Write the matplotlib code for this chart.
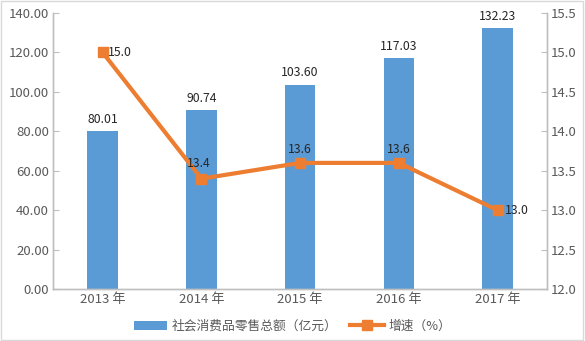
import matplotlib
matplotlib.use("Agg")
import matplotlib.pyplot as plt
from matplotlib.patches import Rectangle

plt.rcParams['font.family'] = ['Noto Sans CJK SC', 'DejaVu Sans']

years = ["2013年", "2014年", "2015年", "2016年", "2017年"]
sales = [80.01, 90.74, 103.60, 117.03, 132.23]
growth = [15.0, 13.4, 13.6, 13.6, 13.0]

bar_color = "#5B9BD5"
line_color = "#ED7D31"
axis_color = "#BFBFBF"
text_color = "#595959"

fig = plt.figure(figsize=(5.85, 3.41), dpi=100)
fig.patches.append(Rectangle((0.002, 0.003), 0.995, 0.994, transform=fig.transFigure,
                             fill=False, edgecolor="#D9D9D9", linewidth=1.0))
ax = fig.add_axes([0.091, 0.152, 0.844, 0.810])
ax2 = ax.twinx()

x = list(range(len(years)))
bars = ax.bar(x, sales, width=0.31, color=bar_color, zorder=2)
ax.set_xlim(-0.5, len(years) - 0.5)
ax.set_ylim(0, 140)
ax.set_yticks(range(0, 141, 20))
ax.set_yticklabels([f"{v:.2f}" for v in range(0, 141, 20)])
ax.set_xticks(x)
ax.set_xticklabels([y.replace("年", " 年") for y in years])

for xi, v in zip(x, sales):
    ax.annotate(f"{v:.2f}", (xi, v), xytext=(0, 4), textcoords="offset points",
                ha="center", va="bottom", fontsize=8.8, color="#262626")

line, = ax2.plot(x, growth, color=line_color, linewidth=3.0, marker="s",
                 markersize=7, zorder=3)
ax2.set_ylim(12.0, 15.5)
ax2.set_yticks([12.0 + 0.5 * i for i in range(8)])
ax2.set_yticklabels([f"{12.0 + 0.5 * i:.1f}" for i in range(8)])

offsets = [(4, 0, "left", "center"), (-2, 6, "center", "bottom"),
           (0, 5, "center", "bottom"), (0, 5, "center", "bottom"),
           (5, 0, "left", "center")]
for xi, v, (dx, dy, ha, va) in zip(x, growth, offsets):
    ax2.annotate(f"{v:.1f}", (xi, v), xytext=(dx, dy), textcoords="offset points",
                 ha=ha, va=va, fontsize=8.8, color="#262626")

for a in (ax, ax2):
    a.spines["top"].set_visible(False)
    for s in ("left", "right", "bottom"):
        a.spines[s].set_color(axis_color)
        a.spines[s].set_linewidth(1.0)
    a.tick_params(axis="y", direction="in", length=4, color=axis_color,
                  labelsize=9.5, labelcolor=text_color)
ax.tick_params(axis="x", length=0, labelsize=9.5, labelcolor=text_color, pad=3)
ax2.tick_params(axis="y", pad=3)
ax.tick_params(axis="y", pad=3)

fig.legend([bars, line], ["社会消费品零售总额（亿元）", "增速（%）"],
           loc="lower center", bbox_to_anchor=(0.5, -0.01), ncol=2, frameon=False,
           fontsize=9.2, labelcolor=text_color, handlelength=2.6, columnspacing=1.0,
           handletextpad=0.4)

fig.savefig("out.png", dpi=100)
